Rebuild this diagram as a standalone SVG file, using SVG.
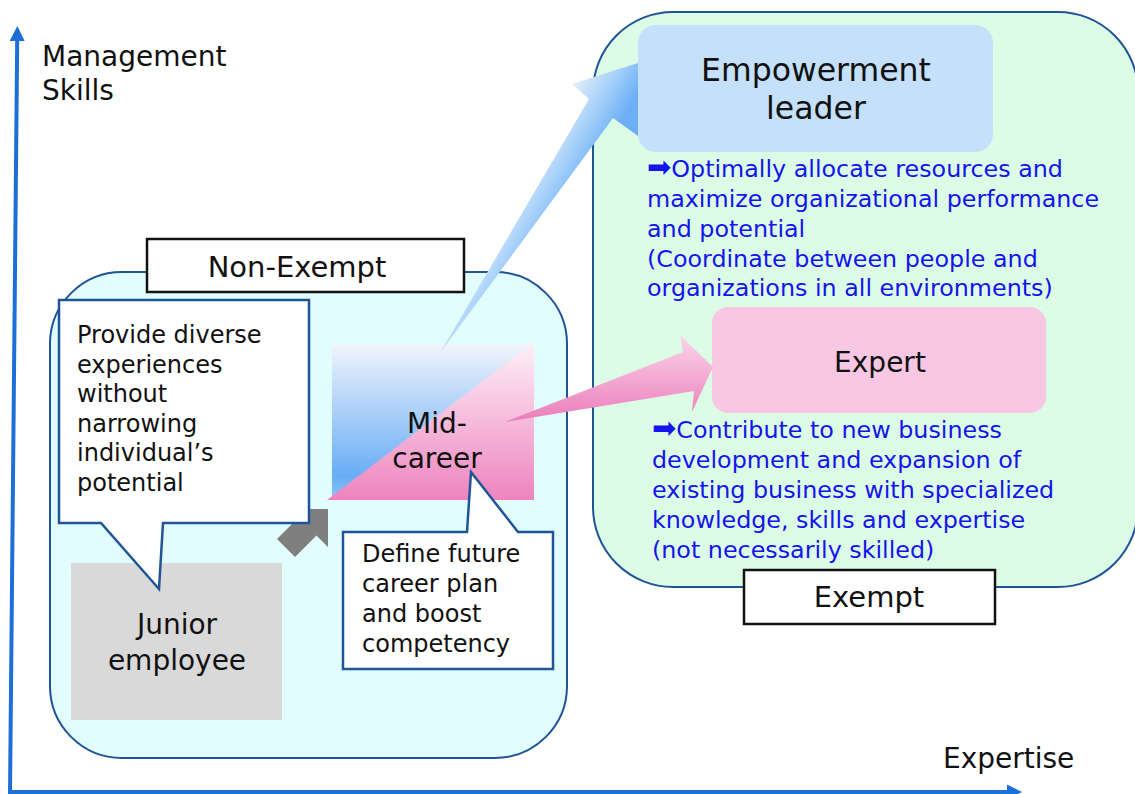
<svg xmlns="http://www.w3.org/2000/svg" width="1135" height="794" viewBox="0 0 1135 794">
<style>
text{font-family:"DejaVu Sans",Verdana,"Liberation Sans",sans-serif;fill:#111}
.axis{stroke:#1c6fd6;stroke-width:4;fill:none}
.region{stroke:#1f5497;stroke-width:2}
.label{fill:#fff;stroke:#111;stroke-width:2.5}
.callout{fill:#fff;stroke:#1f5497;stroke-width:2.5}
.big{font-size:28px;text-anchor:middle}
.lbl{font-size:29px;text-anchor:middle}
.head{font-size:31.5px;text-anchor:middle}
.note{font-size:23.8px;fill:#1414ec}
.arr{font-size:29px}
.call{font-size:24px}
</style>
<defs>
<marker id="axhead" markerUnits="userSpaceOnUse" markerWidth="16" markerHeight="16" viewBox="0 0 16 16" refX="1" refY="8" orient="auto">
<path d="M0,0.5 L15,8 L0,15.5 Z" fill="#1c6fd6"/>
</marker>
<linearGradient id="gMidBlue" x1="0" y1="0" x2="0" y2="1">
<stop offset="0" stop-color="#f1f4fb"/>
<stop offset="0.85" stop-color="#68adf6"/>
<stop offset="1" stop-color="#93c5f5"/>
</linearGradient>
<linearGradient id="gMidPink" x1="0" y1="0" x2="0" y2="1">
<stop offset="0" stop-color="#fdf1f7"/>
<stop offset="1" stop-color="#ee84bf"/>
</linearGradient>
<linearGradient id="gBlueArrow" gradientUnits="userSpaceOnUse" x1="572" y1="84" x2="625" y2="115">
<stop offset="0" stop-color="#e4effc"/>
<stop offset="0.55" stop-color="#a3cff9"/>
<stop offset="1" stop-color="#6db0f7"/>
</linearGradient>
<linearGradient id="gPinkArrow" gradientUnits="userSpaceOnUse" x1="0" y1="335" x2="0" y2="418">
<stop offset="0" stop-color="#fbd6ea"/>
<stop offset="1" stop-color="#ec80bd"/>
</linearGradient>
</defs>

<g id="axes">
<line class="axis" x1="10" y1="794" x2="17.2" y2="40" marker-end="url(#axhead)"/>
<line class="axis" x1="8" y1="792" x2="1008" y2="792" marker-end="url(#axhead)"/>
<text x="42" y="66" font-size="28">Management</text>
<text x="42" y="100" font-size="28">Skills</text>
<text x="943" y="768" font-size="28">Expertise</text>
</g>

<g id="exempt-region">
<rect class="region" x="593" y="12" width="545" height="575" rx="80" fill="#dcfce6"/>
</g>
<g id="nonexempt-region">
<rect class="region" x="50" y="272" width="517" height="486" rx="72" fill="#e1fdfd"/>
</g>
<g id="nonexempt-label">
<rect class="label" x="147" y="239" width="317" height="53"/>
<text class="lbl" x="297" y="277">Non-Exempt</text>
</g>
<g id="exempt-label">
<rect class="label" x="744" y="570" width="251" height="54"/>
<text class="lbl" x="869" y="607">Exempt</text>
</g>

<g id="junior">
<rect x="71" y="563" width="211" height="157" fill="#d9d9d9"/>
<text class="big" x="177" y="634">Junior</text>
<text class="big" x="177" y="670">employee</text>
</g>

<g id="midcareer">
<rect x="332" y="344" width="202" height="156" fill="url(#gMidBlue)"/>
<polygon points="327,500 534,342 534,500" fill="url(#gMidPink)"/>
<text class="big" x="437" y="433">Mid-</text>
<text class="big" x="437" y="468">career</text>
</g>

<g id="connectors">
<polygon points="440,353 589,99 572,84 660,56 638,136 613,118" fill="url(#gBlueArrow)"/>
<polygon points="505,422 683,352 680,335 713,367 692,412 694,391" fill="url(#gPinkArrow)"/>
<polygon points="328,509 328,547 316.5,535.5 295,557 277,539 298.5,517.5 290,509" fill="#7f7f7f"/>
</g>

<g id="callout-junior">
<path class="callout" d="M59,300 H309 V523 H163 L159,589 L101,523 H59 Z"/>
<text class="call" x="77" y="343">Provide diverse</text>
<text class="call" x="77" y="372.5">experiences</text>
<text class="call" x="77" y="402">without</text>
<text class="call" x="77" y="431.5">narrowing</text>
<text class="call" x="77" y="461">individual’s</text>
<text class="call" x="77" y="490.5">potential</text>
</g>

<g id="callout-mid">
<path class="callout" d="M343,532 H467 L471,472 L518,532 H553 V669 H343 Z"/>
<text class="call" x="362" y="562">Define future</text>
<text class="call" x="362" y="592">career plan</text>
<text class="call" x="362" y="622">and boost</text>
<text class="call" x="362" y="652">competency</text>
</g>

<g id="empowerment-leader">
<rect x="638" y="25" width="355" height="127" rx="18" fill="#c4e0fb"/>
<text class="head" x="816" y="81">Empowerment</text>
<text class="head" x="816" y="119">leader</text>
</g>
<g id="leader-note">
<text class="note" x="647" y="177"><tspan class="arr">➡</tspan>Optimally allocate resources and</text>
<text class="note" x="647" y="207">maximize organizational performance</text>
<text class="note" x="647" y="237">and potential</text>
<text class="note" x="647" y="267">(Coordinate between people and</text>
<text class="note" x="647" y="296">organizations in all environments)</text>
</g>

<g id="expert">
<rect x="712" y="307" width="334" height="106" rx="16" fill="#f7c7e3"/>
<text class="big" x="880" y="372">Expert</text>
</g>
<g id="expert-note">
<text class="note" x="652" y="438"><tspan class="arr">➡</tspan>Contribute to new business</text>
<text class="note" x="652" y="468">development and expansion of</text>
<text class="note" x="652" y="498">existing business with specialized</text>
<text class="note" x="652" y="528">knowledge, skills and expertise</text>
<text class="note" x="652" y="558">(not necessarily skilled)</text>
</g>
</svg>
